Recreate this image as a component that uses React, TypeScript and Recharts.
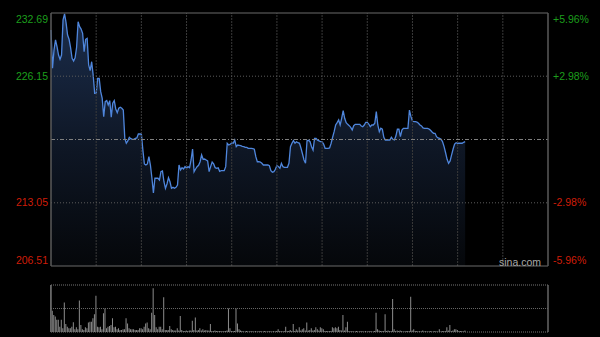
import React from 'react';
import { AreaChart, Area, BarChart, Bar, XAxis, YAxis, ReferenceLine } from 'recharts';

// one value per minute, session has 330 minutes (HK style 9:30-12:00, 13:00-16:00)
const SESSION_MINUTES = 330;
const PREV_CLOSE = 219.6;

const prices = [
  230.93, 226.97, 228.86, 229.9, 229.2, 228.34, 227.9, 228.34, 231.97, 232.59,
  231.69, 230.41, 229.97, 229.1, 228.0, 227.72, 228.06, 229.14, 231.79, 231.27,
  231.03, 230.59, 228.69, 229.97, 230.07, 227.31, 226.72, 227.65, 226.27, 224.38,
  224.38, 225.93, 225.93, 224.55, 223.86, 221.96, 223.51, 223.62, 223.17, 223.62,
  221.9, 223.35, 223.62, 222.76, 222.37, 222.83, 222.93, 222.83, 222.65, 219.72,
  219.21, 219.45, 219.83, 219.68, 219.62, 219.62, 219.72, 219.76, 220.17, 220.17,
  220.17, 218.51, 217.07, 216.96, 217.07, 217.82, 216.96, 215.62, 214.06, 215.59,
  215.59, 215.59, 215.41, 216.27, 216.34, 215.23, 214.55, 215.0, 215.65, 215.23,
  214.55, 214.65, 214.55, 214.65, 214.89, 216.96, 216.44, 216.68, 216.55, 216.79,
  216.62, 216.79, 216.68, 217.48, 218.62, 216.27, 216.55, 216.79, 216.93, 217.3,
  218.0, 217.55, 217.58, 217.48, 217.38, 216.27, 216.79, 217.27, 217.07, 216.68,
  216.62, 216.68, 216.31, 216.37, 216.37, 216.37, 216.79, 219.21, 219.03, 219.1,
  219.27, 219.21, 219.55, 218.86, 219.03, 219.0, 218.96, 218.9, 218.86, 218.79,
  218.79, 218.69, 218.69, 218.69, 218.65, 218.59, 217.82, 217.3, 217.3, 217.27,
  217.14, 216.96, 216.96, 216.96, 216.96, 216.89, 216.37, 216.21, 216.27, 216.52,
  216.93, 216.79, 216.62, 217.14, 216.79, 216.72, 216.72, 216.72, 217.14, 218.86,
  219.21, 219.48, 219.21, 219.37, 219.27, 219.21, 218.69, 218.1, 217.48, 217.14,
  219.48, 219.52, 219.37, 218.86, 218.51, 219.72, 219.72, 219.52, 219.45, 219.37,
  219.37, 219.13, 218.69, 218.69, 218.69, 218.72, 219.21, 219.83, 220.41, 221.1,
  221.34, 221.62, 221.1, 221.79, 222.58, 221.79, 221.34, 221.17, 221.03, 220.86,
  220.58, 221.03, 221.17, 221.17, 221.17, 221.17, 221.0, 220.92, 221.1, 221.38,
  221.38, 221.2, 220.92, 221.1, 221.1, 221.28, 222.48, 221.1, 220.41, 220.76,
  220.66, 219.83, 219.55, 219.55, 219.55, 219.55, 219.83, 219.62, 219.55, 219.96,
  220.66, 220.66, 219.89, 220.58, 220.76, 220.76, 220.76, 220.76, 222.65, 221.96,
  221.51, 221.44, 221.44, 221.41, 221.28, 221.1, 221.0, 220.79, 220.76, 220.76,
  220.76, 220.69, 220.55, 220.38, 220.24, 220.24, 219.89, 219.76, 219.72, 219.62,
  219.37, 218.86, 218.23, 217.55, 217.14, 217.38, 218.0, 218.62, 219.13, 219.27,
  219.21, 219.21, 219.21, 219.21, 219.31, 219.37,
];

const volumes = [
  100, 45, 36, 33, 26, 26, 11, 26, 8, 63,
  17, 11, 8, 8, 11, 21, 6, 10, 6, 67,
  15, 6, 4, 10, 8, 20, 22, 22, 29, 38,
  77, 11, 10, 11, 6, 40, 50, 8, 11, 13,
  15, 29, 10, 11, 6, 8, 4, 4, 6, 6,
  29, 18, 8, 6, 6, 6, 4, 4, 4, 8,
  8, 6, 11, 18, 20, 8, 6, 41, 93, 36,
  10, 6, 11, 11, 6, 74, 4, 4, 4, 13,
  6, 4, 3, 3, 8, 3, 34, 4, 2, 2,
  3, 2, 3, 3, 24, 4, 31, 3, 4, 8,
  3, 6, 3, 4, 3, 3, 17, 2, 2, 3,
  2, 2, 2, 2, 1, 2, 2, 3, 50, 8,
  2, 2, 2, 50, 18, 6, 3, 2, 1, 1,
  2, 1, 1, 2, 1, 1, 2, 1, 1, 2,
  1, 1, 2, 1, 1, 2, 1, 1, 2, 1,
  2, 6, 2, 2, 1, 2, 11, 2, 2, 4,
  2, 17, 2, 6, 3, 10, 3, 6, 8, 3,
  20, 3, 4, 8, 3, 4, 10, 6, 3, 10,
  8, 6, 2, 2, 2, 2, 2, 10, 8, 10,
  8, 11, 4, 3, 36, 3, 10, 22, 2, 1,
  2, 1, 1, 2, 1, 1, 2, 1, 1, 2,
  1, 1, 2, 1, 1, 2, 41, 6, 3, 2,
  2, 2, 38, 2, 3, 2, 2, 70, 6, 2,
  3, 2, 3, 2, 1, 1, 2, 2, 2, 75,
  3, 6, 2, 2, 1, 2, 1, 3, 1, 2,
  1, 1, 2, 1, 1, 2, 1, 1, 6, 1,
  2, 2, 2, 10, 3, 15, 2, 3, 6, 6,
  4, 2, 2, 2, 1, 3,
];

const priceTicks = [206.51, 213.05, 219.6, 226.15, 232.69];
const pctLabels = ['-5.96%', '-2.98%', '', '+2.98%', '+5.96%'];
const gridMinutes = [30, 60, 90, 120, 150, 180, 210, 240, 270, 300];
const gridPrices = [213.05, 226.15];

const UP = '#1c9e1c';
const DOWN = '#cf1d08';
const LABEL_FONT = '"Liberation Sans", Arial, sans-serif';

const tickOffset = (v: number) => (v === priceTicks[priceTicks.length - 1] ? 6 : v === priceTicks[0] ? -6 : 0);

// draws the price on the left and the change in percent on the right for each tick
const PriceTick = (props: any) => {
  const { y, payload } = props;
  const v = payload.value;
  if (v === PREV_CLOSE) return null;
  const color = v > PREV_CLOSE ? UP : DOWN;
  const ty = y + tickOffset(v);
  return (
    <g>
      <text x={48} y={ty} dy="0.35em" textAnchor="end" fill={color} fontSize={10.5} fontFamily={LABEL_FONT}>
        {v.toFixed(2)}
      </text>
      <text x={553} y={ty} dy="0.35em" textAnchor="start" fill={color} fontSize={10.5} fontFamily={LABEL_FONT}>
        {pctLabels[priceTicks.indexOf(v)]}
      </text>
    </g>
  );
};

export default function App() {
  const priceData = prices.map((p, i) => ({ t: i, price: p }));
  const volData = volumes.map((v, i) => ({ t: i, vol: v }));
  const yMin = priceTicks[0];
  const yMax = priceTicks[priceTicks.length - 1];

  return (
    <div style={{ position: 'absolute', left: 0, top: 0, width: 600, height: 337, background: '#000', overflow: 'hidden' }}>
      <div style={{ position: 'absolute', left: 0, top: 0 }}>
        <AreaChart width={600} height={280} data={priceData} margin={{ top: 13, right: 52, bottom: 14, left: 0 }}>
          <defs>
            <linearGradient id="priceFill" x1="0" y1="0" x2="0" y2="1">
              <stop offset="0%" stopColor="#1b2d4c" />
              <stop offset="55%" stopColor="#0e1624" />
              <stop offset="100%" stopColor="#05070a" />
            </linearGradient>
          </defs>
          <XAxis dataKey="t" type="number" domain={[0, SESSION_MINUTES]} hide />
          <YAxis yAxisId="l" domain={[yMin, yMax]} ticks={priceTicks} interval={0} width={51}
            axisLine={false} tickLine={false} tick={<PriceTick />} />
          <Area yAxisId="l" type="linear" dataKey="price" stroke="#4f86dc" strokeWidth={1.3}
            fill="url(#priceFill)" fillOpacity={1} baseValue="dataMin" isAnimationActive={false} dot={false} activeDot={false} />
          {gridMinutes.map((m) => (
            <ReferenceLine key={'v' + m} yAxisId="l" x={m} stroke="#3a3a3a" strokeDasharray="2 1" />
          ))}
          {gridPrices.map((p) => (
            <ReferenceLine key={'h' + p} yAxisId="l" y={p} stroke="#5c5c5c" strokeDasharray="1 2" />
          ))}
          <ReferenceLine yAxisId="l" y={PREV_CLOSE} stroke="#808080" strokeDasharray="4 2 1 2" />
          <ReferenceLine yAxisId="l" y={yMax} stroke="#6a6a6a" />
          <ReferenceLine yAxisId="l" y={yMin} stroke="#6a6a6a" />
          <ReferenceLine yAxisId="l" x={0} stroke="#5a5a5a" strokeWidth={1.5} />
          <ReferenceLine yAxisId="l" x={SESSION_MINUTES} stroke="#5a5a5a" strokeWidth={1.5} />
        </AreaChart>
      </div>
      <div style={{ position: 'absolute', left: 499, top: 256, color: '#a8a8a8', fontSize: 10.5, lineHeight: '12px', fontFamily: LABEL_FONT }}>
        sina.com
      </div>
      <div style={{ position: 'absolute', left: 0, top: 280 }}>
        <BarChart width={600} height={57} data={volData} margin={{ top: 5, right: 52, bottom: 5, left: 51 }}>
          <XAxis dataKey="t" type="number" domain={[0, SESSION_MINUTES]} hide />
          <YAxis domain={[0, 100]} hide />
          <Bar dataKey="vol" fill="#8c8c8c" barSize={1} isAnimationActive={false} />
          <ReferenceLine y={100} stroke="#777" strokeDasharray="1 1" />
          <ReferenceLine y={50} stroke="#666" strokeDasharray="1 1" />
          <ReferenceLine y={0} stroke="#777" strokeDasharray="1 1" />
          <ReferenceLine x={0} stroke="#666" strokeWidth={1.5} />
          <ReferenceLine x={SESSION_MINUTES} stroke="#666" strokeWidth={1.5} />
        </BarChart>
      </div>
    </div>
  );
}
